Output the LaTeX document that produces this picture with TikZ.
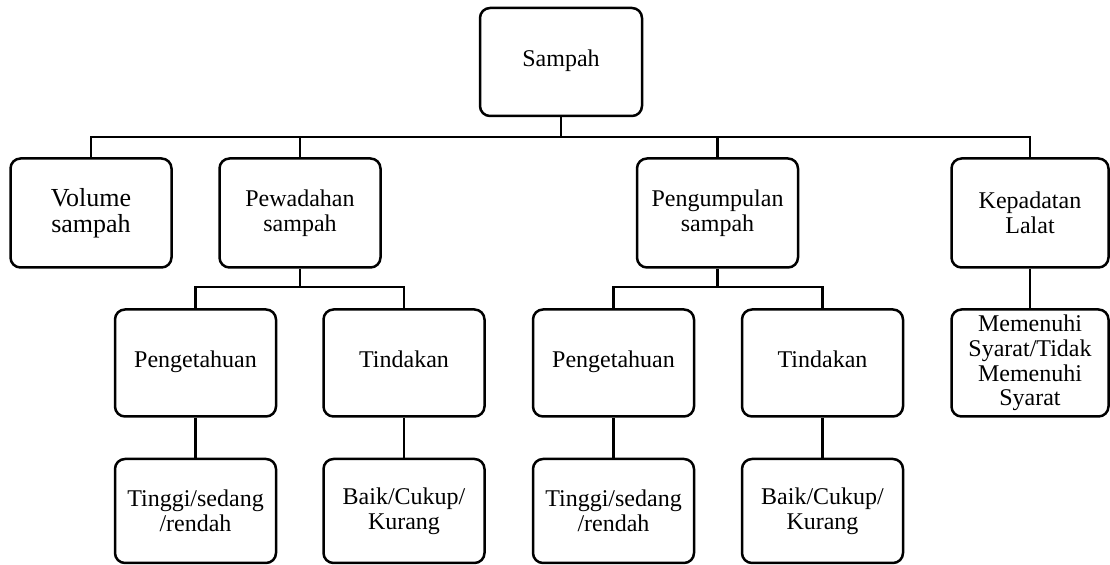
\documentclass[tikz,border=0pt]{standalone}
\usepackage{fontspec}
\setmainfont{Liberation Serif}
\usepackage{tikz}
\usetikzlibrary{positioning}
\tikzset{box/.style = {draw, rounded corners = 5pt, line width = 1.25pt,
                       align = center, inner sep = 0,
                       font = \fontsize{12}{12.4}\selectfont,
                       minimum width = 80.5pt, minimum height = 53.5pt}}
\tikzset{oneline/.style = {text height = 8pt, text depth = 3pt}}
\tikzset{link/.style = {line width = 1.2pt}}

\begin{document}
\begin{tikzpicture}[x = 0.5pt, y = -0.5pt]
    \useasboundingbox (0, 0) rectangle (1110, 565);

    \node [box, oneline, minimum width = 81pt, minimum height = 54pt] (sampah) at (561, 62) {Sampah};

    \node [box, minimum height = 54.5pt, font = \fontsize{13}{13}\selectfont] (volume) at (91, 213) {Volume\\sampah};
    \node [box, minimum height = 54.5pt] (pewadahan) at (300, 213) {Pewadahan\\sampah};
    \node [box, minimum height = 54.5pt] (pengumpulan) at (717.5, 213) {Pengumpulan\\sampah};
    \node [box, minimum height = 54.5pt, minimum width = 78.5pt] (lalat) at (1030, 213) {Kepadatan\\Lalat};

    \node [box, oneline] (tahu1) at (195.5, 363) {Pengetahuan};
    \node [box, oneline] (tindak1) at (404, 363) {Tindakan};
    \node [box, oneline] (tahu2) at (613.5, 363) {Pengetahuan};
    \node [box, oneline] (tindak2) at (822.5, 363) {Tindakan};
    \node [box, minimum width = 78.5pt] (syarat) at (1030, 363) {Memenuhi\\Syarat/Tidak\\Memenuhi\\Syarat};

    \node [box, minimum height = 52pt] (hasil1) at (195.5, 511) {Tinggi/sedang\\/rendah};
    \node [box, minimum height = 52pt] (hasil2) at (404, 511) {Baik/Cukup/\\Kurang};
    \node [box, minimum height = 52pt] (hasil3) at (613.5, 511) {Tinggi/sedang\\/rendah};
    \node [box, minimum height = 52pt] (hasil4) at (822.5, 511) {Baik/Cukup/\\Kurang};

    \coordinate (bus) at (561, 137);
    \coordinate (bus1) at (300, 287);
    \coordinate (bus2) at (717.5, 287);

    \draw [link] (sampah) -- (bus);
    \draw [link] (volume) |- (lalat.north |- bus) -- (lalat);
    \draw [link] (pewadahan) -- (pewadahan.north |- bus);
    \draw [link] (pengumpulan) -- (pengumpulan.north |- bus);

    \draw [link] (pewadahan) -- (bus1);
    \draw [link] (tahu1) |- (tindak1.north |- bus1) -- (tindak1);
    \draw [link] (pengumpulan) -- (bus2);
    \draw [link] (tahu2) |- (tindak2.north |- bus2) -- (tindak2);
    \draw [link] (lalat) -- (syarat);

    \draw [link] (tahu1) -- (hasil1);
    \draw [link] (tindak1) -- (hasil2);
    \draw [link] (tahu2) -- (hasil3);
    \draw [link] (tindak2) -- (hasil4);
\end{tikzpicture}
\end{document}
